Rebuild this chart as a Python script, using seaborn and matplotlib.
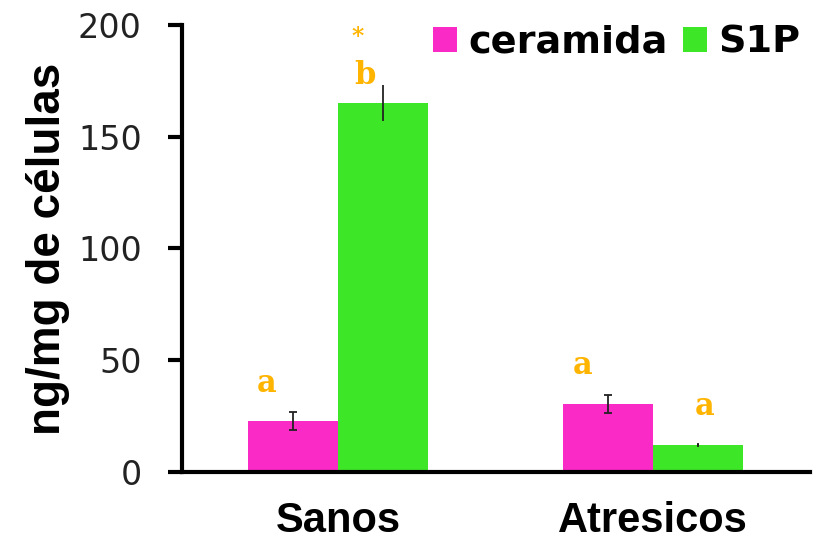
import matplotlib
matplotlib.use("Agg")
import matplotlib.pyplot as plt
import seaborn as sns
import pandas as pd

# Measured concentrations (ng/mg of cells), mean and error per group
groups = ["Sanos", "Atresicos"]
lipids = ["ceramida", "S1P"]
ceramida_mean = [23, 30.5]
ceramida_err = [4, 4]
s1p_mean = [165, 12]
s1p_err = [8, 0.4]

# Significance letters over each bar (group, lipid, letter)
sig_labels = [
    ("Sanos", "ceramida", "a"),
    ("Sanos", "S1P", "b"),
    ("Atresicos", "ceramida", "a"),
    ("Atresicos", "S1P", "a"),
]
star_label = ("Sanos", "S1P", "*")

colors = {"ceramida": "#FA2AC6", "S1P": "#3EE628"}
sig_color = "#FFB400"

df = pd.DataFrame({
    "grupo": groups * 2,
    "lipido": ["ceramida"] * len(groups) + ["S1P"] * len(groups),
    "valor": ceramida_mean + s1p_mean,
    "err": ceramida_err + s1p_err,
})

sns.set_theme(style="white")
plt.rcParams["font.family"] = ["DejaVu Sans"]

fig = plt.figure(figsize=(8.14, 5.42), dpi=100)
ax = fig.add_axes([0.2236, 0.1292, 0.7714, 0.8247])

sns.barplot(data=df, x="grupo", y="valor", hue="lipido", order=groups,
            hue_order=lipids, palette=colors, width=0.571, errorbar=None,
            saturation=1, ax=ax, linewidth=0)

# locate each bar's centre from the drawn patches
centres = {}
bars = [p for p in ax.patches if p.get_height() > 0]
for lip_i, lip in enumerate(lipids):
    for g_i, g in enumerate(groups):
        p = bars[lip_i * len(groups) + g_i]
        centres[(g, lip)] = p.get_x() + p.get_width() / 2

capsizes = {
    ("Sanos", "ceramida"): 3,
    ("Sanos", "S1P"): 0,
    ("Atresicos", "ceramida"): 3,
    ("Atresicos", "S1P"): 1,
}
for _, row in df.iterrows():
    key = (row.grupo, row.lipido)
    ax.errorbar(centres[key], row.valor, yerr=row.err, fmt="none",
                ecolor="#222222", elinewidth=1.3, capsize=capsizes[key],
                capthick=1.3)

lookup = {(r.grupo, r.lipido): (r.valor, r.err) for r in df.itertuples()}
# horizontal / vertical offsets in points for each letter
offsets = {
    ("Sanos", "ceramida"): (-19, 9),
    ("Sanos", "S1P"): (-13, -4),
    ("Atresicos", "ceramida"): (-18, 10),
    ("Atresicos", "S1P"): (5, 16),
}
for g, lip, txt in sig_labels:
    v, e = lookup[(g, lip)]
    dx, dy = offsets[(g, lip)]
    ax.annotate(txt, (centres[(g, lip)], v + e), xytext=(dx, dy),
                textcoords="offset points", ha="center", va="bottom",
                color=sig_color, fontsize=22, fontweight="bold",
                family="DejaVu Serif", annotation_clip=False)
g, lip, txt = star_label
v, e = lookup[(g, lip)]
ax.annotate(txt, (centres[(g, lip)], v + e), xytext=(-18, 26),
            textcoords="offset points", ha="center", va="bottom",
            color=sig_color, fontsize=17, fontweight="bold",
            family="DejaVu Serif", annotation_clip=False)

ax.set_xlim(-0.495, 1.498)
ax.set_ylim(0, 200)
ax.set_yticks([0, 50, 100, 150, 200])
ax.tick_params(axis="y", left=True, length=10, width=3, pad=19,
               labelsize=24, colors="black", labelcolor="#222222",
               direction="out")
ax.tick_params(axis="x", length=0, pad=21, labelcolor="black")
for lbl in ax.get_xticklabels():
    lbl.set_fontfamily("Liberation Sans")
    lbl.set_fontweight("bold")
    lbl.set_fontsize(30)

for s in ["top", "right"]:
    ax.spines[s].set_visible(False)
for s in ["left", "bottom"]:
    ax.spines[s].set_linewidth(3)
    ax.spines[s].set_color("black")

ax.set_xlabel("")
ax.set_ylabel("ng/mg de células", fontsize=33, fontweight="bold",
              family="Liberation Sans", color="black", labelpad=6)

handles, labels = ax.get_legend_handles_labels()
leg = ax.legend(handles, labels, loc="upper right",
                bbox_to_anchor=(0.985, 1.0), ncol=2, frameon=False,
                prop={"weight": "bold", "size": 27.5},
                handlelength=0.62, handleheight=0.62, handletextpad=0.3,
                columnspacing=0.4, borderpad=0, borderaxespad=0)
for t in leg.get_texts():
    t.set_color("black")

fig.savefig("out.png", dpi=100)
